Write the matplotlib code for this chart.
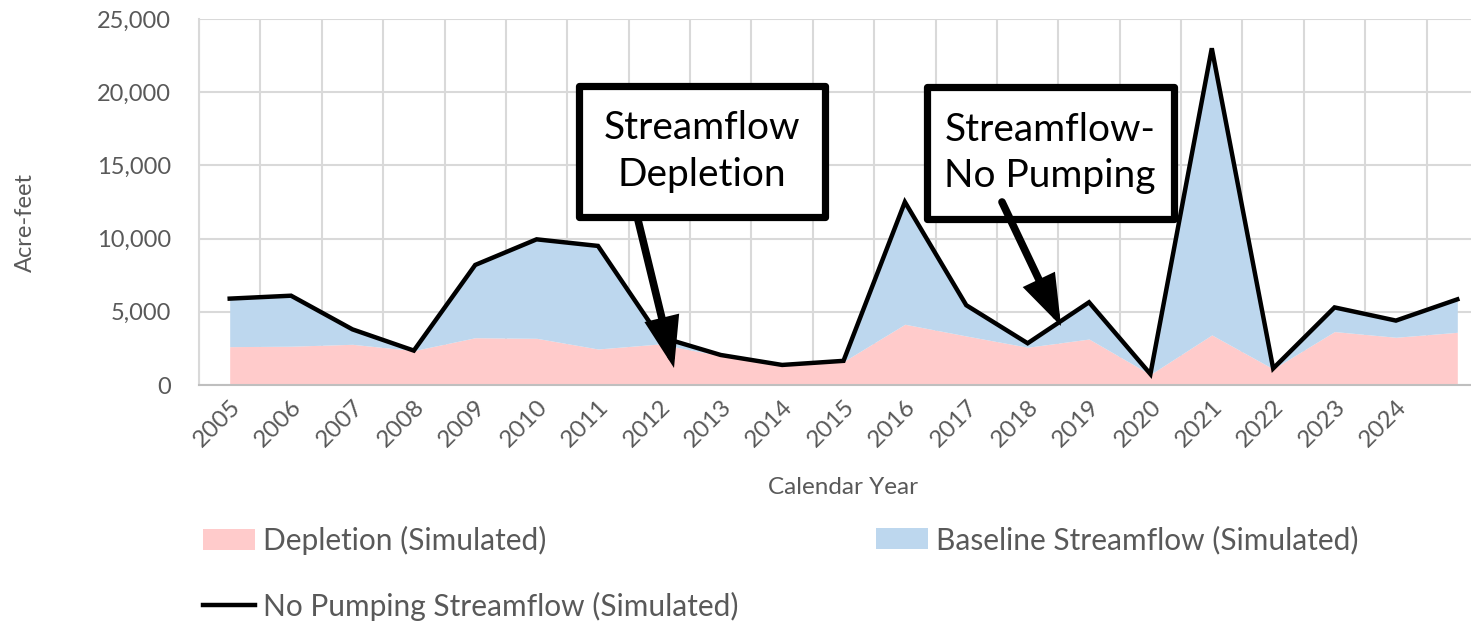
import matplotlib
matplotlib.use("Agg")
import matplotlib.pyplot as plt
from matplotlib.patches import Rectangle, Patch
from matplotlib.lines import Line2D
import numpy as np

# ---------------- data ----------------
years = ['2005', '2006', '2007', '2008', '2009', '2010', '2011', '2012', '2013', '2014',
         '2015', '2016', '2017', '2018', '2019', '2020', '2021', '2022', '2023', '2024', '']
no_pumping = [5900, 6100, 3800, 2350, 8200, 9950, 9500, 3300, 2050, 1370,
              1650, 12500, 5450, 2850, 5650, 750, 23000, 1130, 5300, 4400, 5850]
depletion = [2620, 2650, 2780, 2350, 3230, 3190, 2460, 2800, 2000, 1350,
             1600, 4150, 3350, 2580, 3140, 720, 3420, 1100, 3650, 3260, 3600]
baseline = [t - d for t, d in zip(no_pumping, depletion)]
yticks = [0, 5000, 10000, 15000, 20000, 25000]

PINK = '#FFCBCB'
BLUE = '#BDD7EE'
GRID = '#D9D9D9'
TXT = '#595959'
FONT = ['Lato', 'DejaVu Sans']

plt.rcParams['font.family'] = FONT

W, H = 1471, 624
fig = plt.figure(figsize=(W / 100, H / 100), dpi=100)

# axes placement in pixels (plot extends beyond right edge, as in reference)
left_px, right_px, top_px, bot_px = 199, 1488, 19, 385
ax = fig.add_axes([left_px / W, 1 - bot_px / H, (right_px - left_px) / W, (bot_px - top_px) / H])

x = np.arange(len(years))
ax.fill_between(x, 0, depletion, color=PINK, lw=0, zorder=2)
ax.fill_between(x, depletion, np.array(depletion) + np.array(baseline), color=BLUE, lw=0, zorder=2)
ax.plot(x, no_pumping, color='black', lw=3.2, zorder=3, solid_joinstyle='miter')

ax.set_xlim(-0.5, len(years) - 0.5)
ax.set_ylim(0, 25000)
ax.set_yticks(yticks)
ax.set_yticklabels([f'{v:,}' for v in yticks], color=TXT, fontsize=17)
ax.set_xticks(x)
ax.set_xticklabels(years, rotation=45, ha='right', va='top', rotation_mode='anchor',
                   color=TXT, fontsize=17.5)
ax.set_xticks(np.arange(-0.5, len(years)), minor=True)
ax.tick_params(axis='both', which='both', length=0)
ax.tick_params(axis='y', pad=20)
ax.tick_params(axis='x', pad=8)
ax.grid(True, axis='y', which='major', color=GRID, lw=1.5, zorder=0)
ax.grid(True, axis='x', which='minor', color=GRID, lw=1.5, zorder=0)
ax.grid(False, axis='x', which='major')
for s in ['top', 'right']:
    ax.spines[s].set_visible(False)
ax.spines['left'].set_color(GRID)
ax.spines['left'].set_linewidth(1.5)
ax.spines['bottom'].set_color('#BFBFBF')
ax.spines['bottom'].set_linewidth(1.5)
ax.set_axisbelow(True)

ax.set_ylabel('Acre-feet', color=TXT, fontsize=17)
ax.set_xlabel('Calendar Year', color=TXT, fontsize=17.5)
ax.xaxis.set_label_coords((843 - left_px) / (right_px - left_px), -(488 - bot_px) / (bot_px - top_px))
ax.xaxis.label.set_va('center')
ax.yaxis.set_label_coords(-(199 - 25) / (right_px - left_px), (385 - 222) / (bot_px - top_px))
ax.yaxis.label.set_va('center')


def px2data(px, py):
    xd = (px - left_px) / ((right_px - left_px) / len(years)) - 0.5
    yd = (bot_px - py) / (bot_px - top_px) * 25000
    return xd, yd


def callout(box, text, tail, tip):
    (x0, y0), (x1, y1) = px2data(box[0], box[3]), px2data(box[2], box[1])
    r = Rectangle((x0, y0), x1 - x0, y1 - y0, facecolor='white', edgecolor='black',
                  lw=5.2, joinstyle='round', zorder=5)
    ax.add_patch(r)
    ax.text((x0 + x1) / 2, (y0 + y1) / 2, text, ha='center', va='center', fontsize=28,
            color='black', linespacing=1.36, zorder=6)
    ax.annotate('', xy=px2data(*tip), xytext=px2data(*tail),
                arrowprops=dict(arrowstyle='-|>,head_length=1.3,head_width=0.45', lw=5.5,
                                color='black', mutation_scale=20, shrinkA=0, shrinkB=0,
                                joinstyle='miter'),
                zorder=7)


callout((578.5, 86.5, 824.5, 216.5), 'Streamflow\nDepletion', (638, 220), (674, 368))
callout((926.5, 87.5, 1173.5, 218.5), 'Streamflow-\nNo Pumping', (1002, 202), (1061, 326))

# legend entries
leg_kw = dict(frameon=False, fontsize=21.5, labelcolor=TXT, handlelength=1.75, handleheight=0.7,
              handletextpad=0.25, borderpad=0, borderaxespad=0, loc='center left')
fig.legend(handles=[Patch(facecolor=PINK, edgecolor='none', label='Depletion (Simulated)')],
           bbox_to_anchor=(203 / W, 1 - 540 / H), **leg_kw)
fig.legend(handles=[Patch(facecolor=BLUE, edgecolor='none', label='Baseline Streamflow (Simulated)')],
           bbox_to_anchor=(876 / W, 1 - 540 / H), **leg_kw)
fig.legend(handles=[Line2D([], [], color='black', lw=3.2, label='No Pumping Streamflow (Simulated)')],
           bbox_to_anchor=(203 / W, 1 - 606 / H), **leg_kw)

fig.savefig('out.png', dpi=100)
